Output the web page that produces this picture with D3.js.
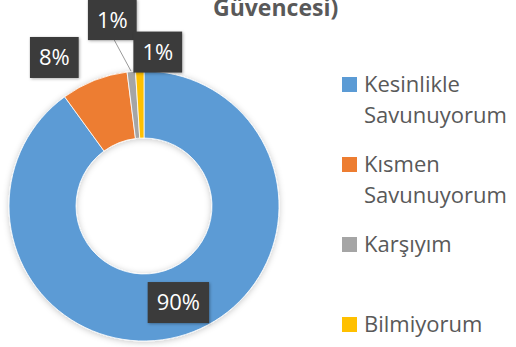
<!DOCTYPE html>
<html>
<head>
<meta charset="utf-8">
<script src="https://cdn.jsdelivr.net/npm/d3@7"></script>
<style>
  html, body { margin: 0; padding: 0; background: #ffffff; }
  svg { display: block; }
</style>
</head>
<body>
<svg id="chart" width="516" height="347"></svg>
<script>
// Survey answers and their shares (%)
const categories = ["Kesinlikle Savunuyorum", "Kısmen Savunuyorum", "Karşıyım", "Bilmiyorum"];
const legendLines = [["Kesinlikle", "Savunuyorum"], ["Kısmen", "Savunuyorum"], ["Karşıyım"], ["Bilmiyorum"]];
const values = [90, 8, 1, 1];
const valueLabels = ["90%", "8%", "1%", "1%"];
const titleText = "Güvencesi)";

const colors = ["#5B9BD5", "#ED7D31", "#A5A5A5", "#FFC000"];

const svg = d3.select("#chart");
const W = 516, H = 347;
const cx = 144, cy = 206, rOuter = 135, rInner = 68;

const defs = svg.append("defs");
const shadow = defs.append("filter").attr("id", "softShadow")
  .attr("x", "-20%").attr("y", "-20%").attr("width", "140%").attr("height", "140%");
shadow.append("feDropShadow").attr("dx", 0).attr("dy", 1).attr("stdDeviation", 3)
  .attr("flood-color", "#000").attr("flood-opacity", 0.22);
const boxShadow = defs.append("filter").attr("id", "boxShadow")
  .attr("x", "-30%").attr("y", "-30%").attr("width", "160%").attr("height", "160%");
boxShadow.append("feDropShadow").attr("dx", 1).attr("dy", 1).attr("stdDeviation", 1.5)
  .attr("flood-color", "#000").attr("flood-opacity", 0.3);

// Title (second line of a wrapped heading)
svg.append("text")
  .attr("x", 213).attr("y", 16)
  .attr("font-family", "'Open Sans', sans-serif")
  .attr("font-weight", "bold")
  .attr("font-size", 23)
  .attr("fill", "#595959")
  .text(titleText);

// Donut
const pie = d3.pie().sort(null).value(d => d)(values);
const arc = d3.arc().innerRadius(rInner).outerRadius(rOuter);
const g = svg.append("g").attr("transform", `translate(${cx},${cy})`);

g.append("g").attr("filter", "url(#softShadow)")
  .selectAll("path").data(pie).join("path")
  .attr("d", arc)
  .attr("fill", (d, i) => colors[i])
  .attr("stroke", "#ffffff")
  .attr("stroke-width", 0.8);

// Label placement: offset from each slice's reference point (centroid for
// the big slice, outer edge for the thin ones)
const outerPt = d => {
  const a = (d.startAngle + d.endAngle) / 2;
  return [Math.sin(a) * rOuter, -Math.cos(a) * rOuter];
};
const labelPlacement = [
  { ref: "centroid", dx: 3, dy: 0, leader: false },
  { ref: "outer", dx: -40, dy: -23, leader: false },
  { ref: "outer", dx: -19, dy: -52, leader: true },
  { ref: "outer", dx: 18, dy: -19, leader: false }
];

const boxH = 41, padX = 9;
pie.forEach((d, i) => {
  const p = labelPlacement[i];
  const base = p.ref === "centroid" ? arc.centroid(d) : outerPt(d);
  const lx = base[0] + p.dx, ly = base[1] + p.dy;
  const lab = g.append("g").attr("transform", `translate(${lx},${ly})`);
  const txt = lab.append("text")
    .attr("text-anchor", "middle")
    .attr("dy", "0.36em")
    .attr("font-family", "'Open Sans', sans-serif")
    .attr("font-size", 22)
    .attr("fill", "#ffffff")
    .text(valueLabels[i]);
  const bw = txt.node().getComputedTextLength() + padX * 2;
  lab.insert("rect", "text")
    .attr("x", -bw / 2).attr("y", -boxH / 2)
    .attr("width", bw).attr("height", boxH)
    .attr("fill", "#3b3b3b")
    .attr("filter", "url(#boxShadow)");
  if (p.leader) {
    g.insert("line", "g")
      .attr("x1", lx + 2).attr("y1", ly + boxH / 2)
      .attr("x2", base[0]).attr("y2", base[1])
      .attr("stroke", "#9a9a9a").attr("stroke-width", 1);
  }
});

// Legend
const legend = svg.append("g").attr("transform", "translate(342,0)");
const legendY = d3.scalePoint().domain(categories).range([92, 332]);
categories.forEach((c, i) => {
  const y = legendY(c);
  legend.append("rect")
    .attr("x", 0).attr("y", y - 15)
    .attr("width", 15).attr("height", 15)
    .attr("fill", colors[i]);
  const t = legend.append("text")
    .attr("x", 22).attr("y", y)
    .attr("font-family", "'Open Sans', sans-serif")
    .attr("font-size", 22)
    .attr("fill", "#595959");
  legendLines[i].forEach((line, j) => {
    t.append("tspan").attr("x", 22).attr("y", y + j * 31).text(line);
  });
});
</script>
</body>
</html>
